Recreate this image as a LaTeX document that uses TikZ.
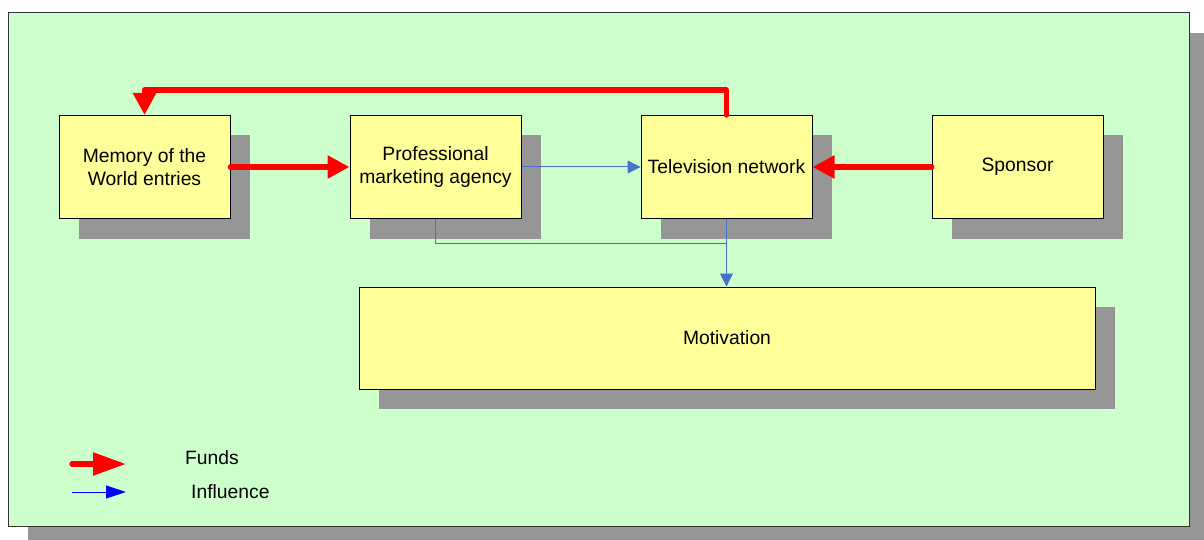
\documentclass[tikz,border=0pt]{standalone}
\usepackage{fontspec}
\setmainfont{Liberation Sans}
\usetikzlibrary{arrows.meta,shadows}
\definecolor{panelgreen}{HTML}{CCFFCC}
\definecolor{boxyellow}{HTML}{FFFF99}
\definecolor{shadowgray}{HTML}{969696}
\definecolor{fundred}{HTML}{FF0000}
\definecolor{inflblue}{HTML}{4472C4}
\definecolor{legblue}{HTML}{0000FF}
\tikzset{
  box/.style={draw=black, line width=1pt, fill=boxyellow, rectangle,
    minimum width=171pt, minimum height=103pt, inner sep=0pt, align=center,
    font=\fontsize{19.3}{23}\selectfont,
    general shadow={fill=shadowgray, shadow xshift=20pt, shadow yshift=-20pt}},
  fund/.style={draw=fundred, line width=5.5pt, line cap=round, line join=round,
    -{Triangle[length=22pt,width=22pt]}},
  infl/.style={draw=inflblue, line width=1pt, -{Triangle[length=13pt,width=13pt]}},
  inflline/.style={draw=inflblue, line width=1pt},
  legtext/.style={font=\fontsize{19.3}{23}\selectfont, inner sep=0pt},
}
\begin{document}
\begin{tikzpicture}[x=1pt,y=-1pt]
\useasboundingbox (0,0) rectangle (1204,540);
% panel with shadow
\fill[shadowgray] (28,33) rectangle (1209,546);
\node[draw=black!80, line width=1pt, fill=panelgreen, minimum width=1181pt, minimum height=513pt, inner sep=0pt] (panel) at (598.5,269.5) {};
% boxes
\node[box] (mem) at (144.5,167) {Memory of the\\World entries};
\node[box] (prof) at (435.5,167) {Professional\\marketing agency};
\node[box] (tv) at (726.5,167) {Television network};
\node[box] (spon) at (1017.5,167) {Sponsor};
\node[box, minimum width=736pt, minimum height=102pt] (mot) at (727,338) {Motivation};
% funds
\draw[fund] (mem.east) -- (prof.east -| prof.west);
\draw[fund] (spon.west) -- (tv.east);
\draw[fund] (tv.north) -- ++(0,-25) -| (mem.north);
% influence
\coordinate (j) at (726.5,243.5);
\draw[infl] (prof.east) -- (tv.west);
\draw[inflline] (prof.south) |- (j);
\draw[infl] (tv.south) -- (tv.south |- mot.north);
% legend
\coordinate (f1) at (72,464);
\coordinate (f2) at (126,464);
\coordinate (i1) at (72,492);
\coordinate (i2) at (126,492);
\draw[draw=fundred, line width=5.5pt, line cap=round, -{Triangle[length=33pt,width=22pt]}] (f1) -- (f2);
\draw[draw=legblue, line width=1pt, -{Triangle[length=20pt,width=13pt]}, color=legblue] (i1) -- (i2);
\node[legtext, anchor=west] (lf) at (185,458) {Funds};
\node[legtext, anchor=west] (li) at (191,492) {Influence};
\end{tikzpicture}
\end{document}
